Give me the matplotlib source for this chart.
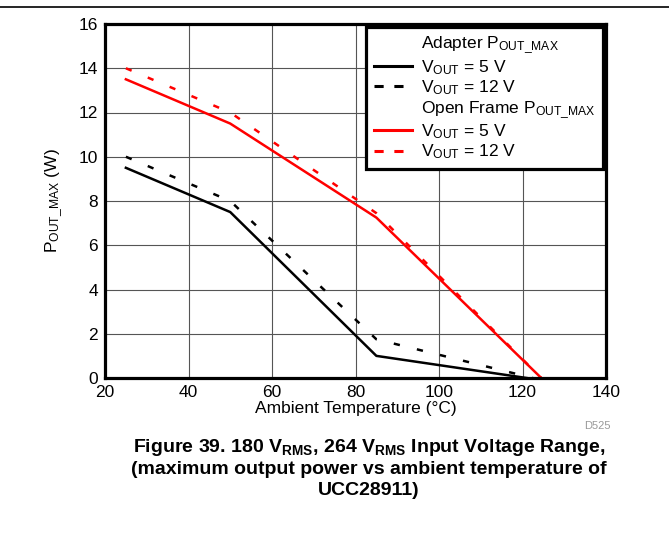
import matplotlib
matplotlib.use("Agg")
import matplotlib.pyplot as plt
from matplotlib.lines import Line2D

plt.rcParams["font.family"] = ["Liberation Sans", "DejaVu Sans"]
plt.rcParams["mathtext.fontset"] = "custom"
plt.rcParams["mathtext.rm"] = "Liberation Sans"
plt.rcParams["mathtext.bf"] = "Liberation Sans:bold"
plt.rcParams["mathtext.it"] = "Liberation Sans:italic"

# ambient temperature (°C) vs max output power (W)
adapter_5v_t = [25, 50, 85, 121]
adapter_5v_p = [9.5, 7.5, 1.0, 0.0]
adapter_12v_t = [25, 50, 85, 122.5]
adapter_12v_p = [10.0, 8.0, 1.75, 0.0]
open_5v_t = [25, 50, 85, 124.5]
open_5v_p = [13.5, 11.5, 7.25, 0.0]
open_12v_t = [25, 50, 85, 124.5]
open_12v_p = [14.0, 12.0, 7.45, 0.0]

x_ticks = [20, 40, 60, 80, 100, 120, 140]
y_ticks = [0, 2, 4, 6, 8, 10, 12, 14, 16]

FS = 12.5

fig = plt.figure(figsize=(6.69, 5.39), dpi=100)
ax = fig.add_axes([105 / 669, 1 - 378 / 539, 501 / 669, 354 / 539])

lw = 1.8
dash = (0, (2.5, 7))
ax.plot(adapter_5v_t, adapter_5v_p, color="black", lw=lw)
ax.plot(adapter_12v_t, adapter_12v_p, color="black", lw=lw, ls=dash)
ax.plot(open_5v_t, open_5v_p, color="red", lw=lw)
ax.plot(open_12v_t, open_12v_p, color="red", lw=lw, ls=dash)

ax.set_xlim(20, 140)
ax.set_ylim(0, 16)
ax.set_xticks(x_ticks)
ax.set_yticks(y_ticks)
ax.tick_params(length=0, labelsize=FS, pad=5)
ax.grid(True, color="#555555", lw=0.8)
for s in ax.spines.values():
    s.set_linewidth(2.3)

ax.set_xlabel("Ambient Temperature (°C)", fontsize=FS, labelpad=1)
ax.set_ylabel(r"P$_{\mathrm{OUT\_MAX}}$ (W)", fontsize=FS, labelpad=10)

blank = Line2D([], [], color="none")
handles = [
    blank,
    Line2D([], [], color="black", lw=2.2),
    Line2D([], [], color="black", lw=2.2, ls=(0, (3, 3.5))),
    blank,
    Line2D([], [], color="red", lw=2.2),
    Line2D([], [], color="red", lw=2.2, ls=(0, (3, 3.5))),
]
labels = [
    r"Adapter P$_{\mathrm{OUT\_MAX}}$",
    r"V$_{\mathrm{OUT}}$ = 5 V",
    r"V$_{\mathrm{OUT}}$ = 12 V",
    r"Open Frame P$_{\mathrm{OUT\_MAX}}$",
    r"V$_{\mathrm{OUT}}$ = 5 V",
    r"V$_{\mathrm{OUT}}$ = 12 V",
]
leg = ax.legend(handles, labels, loc="upper right", fontsize=FS, frameon=True,
                fancybox=False, framealpha=1, edgecolor="black",
                handlelength=2.2, handletextpad=0.5, labelspacing=0.1,
                borderaxespad=0.15, borderpad=0.45)
leg.get_frame().set_linewidth(2.3)

fig.add_artist(Line2D([0, 1], [1 - 7 / 539, 1 - 7 / 539], color="black", lw=1.2))
fig.text(597 / 669, 1 - 426 / 539, "D525", fontsize=8, color="#999999", ha="center", va="center")

cap = (r"Figure 39. 180 $\mathbf{V}_{\mathbf{RMS}}$, 264 $\mathbf{V}_{\mathbf{RMS}}$ Input Voltage Range," + "\n"
       "(maximum output power vs ambient temperature of\nUCC28911)")
fig.text(369 / 669, 1 - 468 / 539, cap, fontsize=14, fontweight="bold", ha="center",
         va="center", linespacing=1.25)

fig.savefig("out.png", dpi=100)
